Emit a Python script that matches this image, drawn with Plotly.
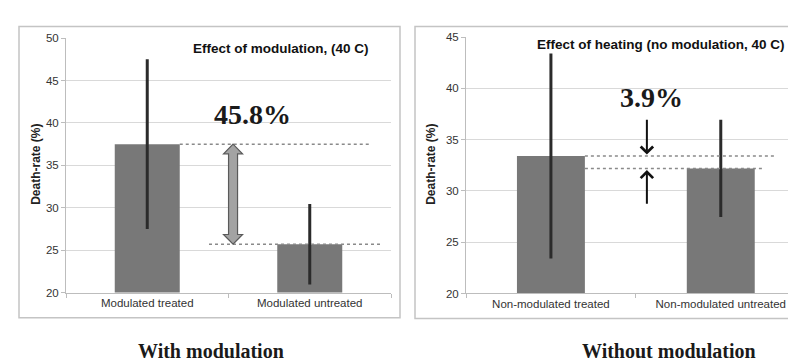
import plotly.graph_objects as go

# ---- data ----
categories_left = ["Modulated treated", "Modulated untreated"]
death_left = [37.5, 25.7]
err_left = [10.0, 4.75]

categories_right = ["Non-modulated treated", "Non-modulated untreated"]
death_right = [33.4, 32.2]
err_right = [10.0, 4.75]

title_left = "Effect of modulation, (40 C)"
title_right = "Effect of heating (no modulation, 40 C)"
pct_left = "45.8%"
pct_right = "3.9%"
caption_left = "With modulation"
caption_right = "Without modulation"
ytitle = "Death-rate (%)"
yticks_left = [20, 25, 30, 35, 40, 45, 50]
yticks_right = [20, 25, 30, 35, 40, 45]
arrow_tail_right = [37.1, 28.6]

W, H = 796, 364
BAR = "#787878"
ERR = "#2b2b2b"
GRID = "#d9d9d9"
AX = "#bdbdbd"

fig = go.Figure()
pos = [0, 1]
fig.add_trace(go.Bar(x=pos, y=death_left, width=0.4, marker=dict(color=BAR, line=dict(width=0)),
                     error_y=dict(type="data", array=err_left, thickness=3, width=0, color=ERR),
                     xaxis="x", yaxis="y", showlegend=False, hoverinfo="skip"))
fig.add_trace(go.Bar(x=pos, y=death_right, width=0.4, marker=dict(color=BAR, line=dict(width=0)),
                     error_y=dict(type="data", array=err_right, thickness=3, width=0, color=ERR),
                     xaxis="x2", yaxis="y2", showlegend=False, hoverinfo="skip"))

tickfont = dict(family="Arial, Liberation Sans", size=11.5, color="#333333")
xcommon = dict(tickmode="array", tickvals=pos, showgrid=False, zeroline=False, showline=True,
               linecolor=AX, linewidth=1, ticks="", tickfont=tickfont,
               minor=dict(tickvals=[-0.5, 0.5, 1.5], ticks="outside", ticklen=4, tickcolor=AX))
ycommon = dict(tickmode="array", showgrid=True, gridcolor=GRID, gridwidth=1, zeroline=False,
               showline=True, linecolor=AX, linewidth=1, ticks="outside", ticklen=4, tickcolor=AX,
               tickfont=tickfont)

fig.update_layout(
    width=W, height=H, margin=dict(l=0, r=0, t=0, b=0),
    paper_bgcolor="white", plot_bgcolor="white", bargap=0.6,
    xaxis=dict(domain=[58 / W, 383 / W], range=[-0.5, 1.5], ticktext=categories_left, anchor="y", **xcommon),
    yaxis=dict(domain=[76 / H, 339 / H], range=[20, 50], tickvals=yticks_left, anchor="x", **ycommon),
    xaxis2=dict(domain=[458 / W, 1.0], range=[-0.5, 1.49], ticktext=categories_right, anchor="y2", **xcommon),
    yaxis2=dict(domain=[75 / H, 340 / H], range=[20, 45], tickvals=yticks_right, anchor="x2", **ycommon),
)

shapes = []
# panel borders
shapes.append(dict(type="rect", xref="paper", yref="paper", x0=11 / W, x1=392 / W, y0=1 - 314 / H, y1=1 - 13 / H,
                   line=dict(color="#c4c4c4", width=1.5), layer="below"))
shapes.append(dict(type="rect", xref="paper", yref="paper", x0=407 / W, x1=795 / W, y0=1 - 315 / H, y1=1 - 13 / H,
                   line=dict(color="#c4c4c4", width=1.5), layer="below"))
dash = dict(color="#8a8a8a", width=1.5, dash="dot")
# dotted reference lines, left
shapes.append(dict(type="line", xref="x", yref="y", x0=0.2, x1=1.377, y0=death_left[0], y1=death_left[0], line=dash))
shapes.append(dict(type="line", xref="x", yref="y", x0=0.38, x1=1.45, y0=death_left[1], y1=death_left[1], line=dash))
# dotted reference lines, right
shapes.append(dict(type="line", xref="x2", yref="y2", x0=0.2, x1=1.318, y0=death_right[0], y1=death_right[0], line=dash))
shapes.append(dict(type="line", xref="x2", yref="y2", x0=0.2, x1=1.247, y0=death_right[1], y1=death_right[1], line=dash))

# fat double-headed arrow, left
cx = 0.528
sw = 4.5 / 162.5
hw = 9.5 / 162.5
hl = 10 / 8.77
top, bot = death_left[0], death_left[1]
path = (f"M{cx},{top} L{cx + hw},{top - hl} L{cx + sw},{top - hl} L{cx + sw},{bot + hl} "
        f"L{cx + hw},{bot + hl} L{cx},{bot} L{cx - hw},{bot + hl} L{cx - sw},{bot + hl} "
        f"L{cx - sw},{top - hl} L{cx - hw},{top - hl} Z")
shapes.append(dict(type="path", xref="x", yref="y", path=path, fillcolor="#a3a3a3",
                   line=dict(color="#5a5a5a", width=1.2)))
fig.update_layout(shapes=shapes)

ann = []
ax_x = 0.565
ann.append(dict(x=ax_x, y=death_right[0] + 0.15, ax=ax_x, ay=arrow_tail_right[0], xref="x2", yref="y2",
                axref="x2", ayref="y2", text="", showarrow=True, arrowhead=4, arrowsize=1.2,
                arrowwidth=2, arrowcolor="#111111"))
ann.append(dict(x=ax_x, y=death_right[1] - 0.15, ax=ax_x, ay=arrow_tail_right[1], xref="x2", yref="y2",
                axref="x2", ayref="y2", text="", showarrow=True, arrowhead=4, arrowsize=1.2,
                arrowwidth=2, arrowcolor="#111111"))

bigfont = dict(family="Liberation Serif, Times New Roman, serif", size=28, color="#1a1a1a")
ann.append(dict(x=244 / W, y=1 - 104 / H, xref="paper", yref="paper", text=f"<b>{pct_left}</b>",
                showarrow=False, font=bigfont, xanchor="center", yanchor="middle"))
ann.append(dict(x=643 / W, y=1 - 86 / H, xref="paper", yref="paper", text=f"<b>{pct_right}</b>",
                showarrow=False, font=bigfont, xanchor="center", yanchor="middle"))

tfont = dict(family="Arial, Liberation Sans", size=13.5, color="#111111")
ann.append(dict(x=273 / W, y=1 - 36 / H, xref="paper", yref="paper", text=f"<b>{title_left}</b>",
                showarrow=False, font=tfont, xanchor="center", yanchor="middle"))
ann.append(dict(x=653 / W, y=1 - 32 / H, xref="paper", yref="paper", text=f"<b>{title_right}</b>",
                showarrow=False, font=tfont, xanchor="center", yanchor="middle"))

yfont = dict(family="Arial, Liberation Sans", size=12, color="#222222")
for xp in (28, 423):
    ann.append(dict(x=xp / W, y=1 - 156 / H, xref="paper", yref="paper", text=f"<b>{ytitle}</b>",
                    textangle=-90, showarrow=False, font=yfont, xanchor="center", yanchor="middle"))

cfont = dict(family="Liberation Serif, Times New Roman, serif", size=20, color="#1a1a1a")
ann.append(dict(x=203 / W, y=1 - 348 / H, xref="paper", yref="paper", text=f"<b>{caption_left}</b>",
                showarrow=False, font=cfont, xanchor="center", yanchor="middle"))
ann.append(dict(x=661 / W, y=1 - 348 / H, xref="paper", yref="paper", text=f"<b>{caption_right}</b>",
                showarrow=False, font=cfont, xanchor="center", yanchor="middle"))
fig.update_layout(annotations=ann)

fig.write_html("out.html")
